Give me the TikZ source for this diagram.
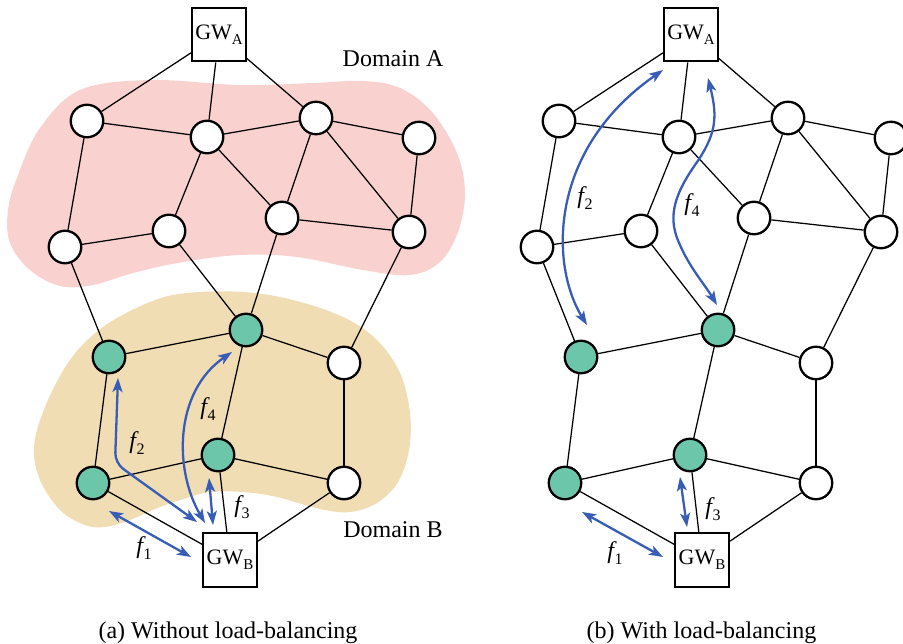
\documentclass[tikz,border=0pt]{standalone}
\usepackage{fontspec}
\setmainfont{Liberation Serif}[ItalicFont={Liberation Serif Italic}]
\usetikzlibrary{arrows.meta}

\pgfdeclarelayer{blobs}
\pgfsetlayers{blobs,main}

\definecolor{domainA}{HTML}{F9D1CF}
\definecolor{domainB}{HTML}{F0DDB3}
\definecolor{active}{HTML}{6CC7AA}
\definecolor{flow}{HTML}{375DB7}

% lowered index in node texts
\newcommand\lowidx[1]{\raisebox{-0.22em}{\fontsize{15}{15}\selectfont #1}}
% flow name f_i
\newcommand\flab[1]{{\itshape f}\kern0.8pt\raisebox{-0.25em}{\fontsize{16}{16}\selectfont\upshape #1}}

\tikzset{
  router/.style={circle, draw, line width=2.3pt, minimum size=32.5pt, inner sep=0pt, fill=white},
  busy/.style={router, fill=active},
  gateway/.style={rectangle, draw, line width=2.3pt, minimum size=53.5pt, inner sep=0pt,
                  fill=white, font=\fontsize{22}{22}\selectfont},
  link/.style={line width=1.25pt},
  flowarrow/.style={flow, line width=2.3pt,
     {Stealth[length=14pt,width=10pt,inset=3.5pt]}-{Stealth[length=14pt,width=10pt,inset=3.5pt]}},
  flowlabel/.style={font=\fontsize{24}{24}\selectfont, inner sep=0pt},
  textlabel/.style={font=\fontsize{24}{24}\selectfont, anchor=base, inner sep=0pt},
}

% the mesh network: two gateways and fifteen routers
\newcommand\meshnet{%
  \node[gateway] (GA) at (219,34.5) {GW\lowidx{A}};
  \node[router] (A1) at (87,121) {};
  \node[router] (A2) at (207,137) {};
  \node[router] (A3) at (316,118) {};
  \node[router] (A4) at (419,138) {};
  \node[router] (A5) at (65,247) {};
  \node[router] (A6) at (169,231) {};
  \node[router] (A7) at (282,218) {};
  \node[router] (A8) at (409,232) {};
  \node[busy]   (B1) at (109,357) {};
  \node[busy]   (B2) at (246,330) {};
  \node[router] (B3) at (344,363) {};
  \node[busy]   (B4) at (93,483) {};
  \node[busy]   (B5) at (218,455) {};
  \node[router] (B6) at (344,483) {};
  \node[gateway] (GB) at (230,560) {GW\lowidx{B}};
  \foreach \u/\v in {GA/A1, GA/A2, GA/A3, A1/A2, A2/A3, A3/A4, A1/A5, A2/A6, A2/A7,
                     A3/A7, A3/A8, A4/A8, A5/A6, A7/A8, A5/B1, A6/B2, A7/B2, A8/B3,
                     B1/B2, B2/B3, B1/B4, B2/B5, B3/B6, B4/B5, B5/B6, B4/GB, B5/GB, B6/GB}
    \draw[link] (\u) -- (\v);
}

\begin{document}
\begin{tikzpicture}[x=1pt, y=-1pt]
\useasboundingbox (0,0) rectangle (903,644);

% domain regions
\begin{pgfonlayer}{blobs}
  \fill[domainA] plot[smooth cycle, tension=0.6] coordinates {
    (80,90) (150,80) (240,85) (313,83) (363,81) (400,88) (432,112) (457,153)
    (465,193) (458,232) (440,262) (410,275) (363,270) (297,257) (240,255)
    (183,262) (133,273) (93,285) (60,286) (30,270) (10,243) (8,210) (18,175) (40,128)};
  \fill[domainB] plot[smooth cycle, tension=0.6] coordinates {
    (187,293) (243,292) (293,300) (343,317) (377,340) (400,373) (410,413)
    (409,450) (398,482) (377,503) (350,512) (320,509) (277,497) (243,492)
    (210,492) (187,498) (160,507) (130,520) (105,527) (85,525) (60,510)
    (40,480) (34,447) (45,407) (70,360) (103,327) (150,302)};
\end{pgfonlayer}

\begin{scope}[name prefix=L-]
  \meshnet
\end{scope}
\begin{scope}[xshift=472pt, name prefix=R-]
  \meshnet
\end{scope}

\node[textlabel] (domA) at (393,67) {Domain A};
\node[textlabel] (domB) at (393,537) {Domain B};

% flows without load balancing
\coordinate (Lf1a) at (109,511);  \coordinate (Lf1b) at (191,557);
\coordinate (Lf2a) at (118,378);  \coordinate (Lf2m) at (115,463);  \coordinate (Lf2b) at (197,522);
\coordinate (Lf3a) at (209,478);  \coordinate (Lf3b) at (213,525);
\coordinate (Lf4a) at (205,523);  \coordinate (Lf4b) at (232,352);
\draw[flowarrow] (Lf1a) -- (Lf1b);
\draw[flowarrow, rounded corners=10pt] (Lf2a) -- (Lf2m) -- (Lf2b);
\draw[flowarrow] (Lf3a) -- (Lf3b);
\draw[flowarrow] (Lf4a) .. controls (174,470) and (174,392) .. (Lf4b);
\node[flowlabel] (Lt1) at (144,548) {\flab{1}};
\node[flowlabel] (Lt2) at (137,443) {\flab{2}};
\node[flowlabel] (Lt3) at (242,507) {\flab{3}};
\node[flowlabel] (Lt4) at (208,409) {\flab{4}};

% flows with load balancing
\coordinate (Rf1a) at (582,512);  \coordinate (Rf1b) at (663,557);
\coordinate (Rf2a) at (587,325);  \coordinate (Rf2b) at (663,70);
\coordinate (Rf3a) at (680,477);  \coordinate (Rf3b) at (687,527);
\coordinate (Rf4a) at (708,78);   \coordinate (Rf4b) at (717,305);
\draw[flowarrow] (Rf1a) -- (Rf1b);
\draw[flowarrow] (Rf2a) .. controls (550,265) and (548,150) .. (Rf2b);
\draw[flowarrow] (Rf3a) -- (Rf3b);
\draw[flowarrow] (Rf4a) .. controls (718,118) and (716,135) .. (695,165)
                        .. controls (672,198) and (668,220) .. (680,245)
                        .. controls (690,268) and (705,285) .. (Rf4b);
\node[flowlabel] (Rt1) at (615,553) {\flab{1}};
\node[flowlabel] (Rt2) at (585,198) {\flab{2}};
\node[flowlabel] (Rt3) at (713,509) {\flab{3}};
\node[flowlabel] (Rt4) at (692,205) {\flab{4}};

\node[textlabel] (capA) at (228,638) {(a) Without load-balancing};
\node[textlabel] (capB) at (701.5,638) {(b) With load-balancing};
\end{tikzpicture}
\end{document}
